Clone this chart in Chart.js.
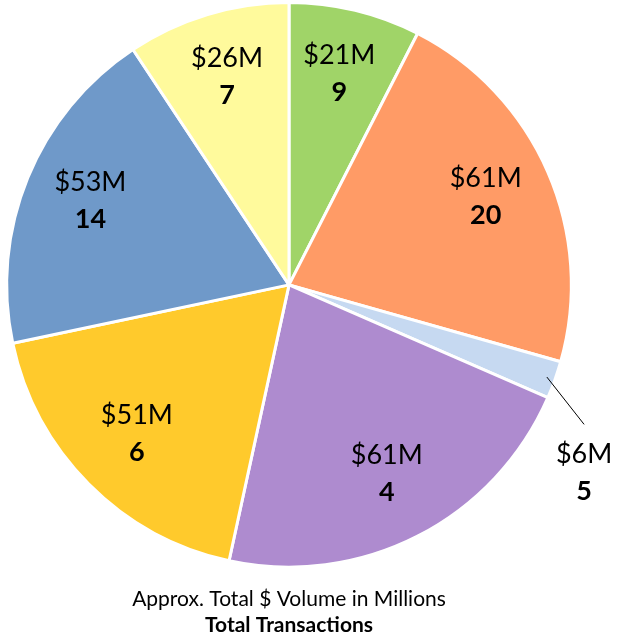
<!DOCTYPE html>
<html>
<head>
<meta charset="utf-8">
<script src="https://cdn.jsdelivr.net/npm/chart.js@4/dist/chart.umd.min.js"></script>
<style>
	html, body { margin: 0; padding: 0; background: #fff; }
	#wrap { width: 618px; height: 638px; }
</style>
</head>
<body>
<div id="wrap"><canvas id="pie"></canvas></div>
<script>
// slice values, clockwise from 12 o'clock
const volumes = [21, 61, 6, 61, 51, 53, 26]; // approx $ volume, millions
const transactions = [9, 20, 5, 4, 6, 14, 7];
const sliceColors = ['#A0D468', '#FF9B66', '#C6D9F1', '#AE8BCF', '#FFCA2C', '#6F99C9', '#FFFA9C'];

const FONT = 'Lato, "Liberation Sans", sans-serif';

// draws "$xxM" + bold count in each slice, small slices get a leader line
const sliceLabels = {
	id: 'sliceLabels',
	afterDatasetsDraw(chart) {
		const ctx = chart.ctx;
		const meta = chart.getDatasetMeta(0);
		const total = volumes.reduce((a, b) => a + b, 0);
		ctx.save();
		ctx.textAlign = 'center';
		ctx.textBaseline = 'middle';
		ctx.fillStyle = '#000';
		meta.data.forEach((arc, i) => {
			const p = arc.getProps(['x', 'y', 'startAngle', 'endAngle', 'outerRadius'], true);
			const a = (p.startAngle + p.endAngle) / 2;
			const r = p.outerRadius;
			let lx, ly;
			if (volumes[i] / total > 0.05) {
				lx = p.x + Math.cos(a) * r * 0.76;
				ly = p.y + Math.sin(a) * r * 0.76 - 3;
			} else {
				lx = p.x + Math.cos(a) * r * 1.11;
				ly = p.y + Math.sin(a) * r * 1.11 + 82;
				//leader line
				ctx.beginPath();
				ctx.strokeStyle = '#000';
				ctx.lineWidth = 1;
				ctx.moveTo(p.x + Math.cos(a) * r * 0.97, p.y + Math.sin(a) * r * 0.97);
				ctx.lineTo(lx, ly - 48);
				ctx.stroke();
			}
			ctx.font = '27px ' + FONT;
			ctx.fillText('$' + volumes[i] + 'M', lx, ly - 18);
			ctx.font = 'bold 27px ' + FONT;
			ctx.fillText(String(transactions[i]), lx, ly + 19);
		});
		ctx.restore();
	},
};

const myPie = new Chart(document.getElementById('pie').getContext('2d'), {
	type: 'pie',
	data: {
		labels: volumes.map((v) => '$' + v + 'M'),
		datasets: [{
			data: volumes,
			backgroundColor: sliceColors,
			borderColor: '#fff',
			borderWidth: 3,
		}],
	},
	options: {
		responsive: true,
		maintainAspectRatio: false,
		animation: false,
		layout: {
			padding: { top: 1, left: 3, right: 43, bottom: 0 },
		},
		plugins: {
			legend: { display: false },
			tooltip: { enabled: false },
			subtitle: {
				display: true,
				position: 'bottom',
				text: 'Approx. Total $ Volume in Millions',
				color: '#000',
				font: { family: FONT, size: 21, lineHeight: 1.15 },
				padding: { top: 18, bottom: 2 },
			},
			title: {
				display: true,
				position: 'bottom',
				text: 'Total Transactions',
				color: '#000',
				font: { family: FONT, size: 21, weight: 'bold', lineHeight: 1.15 },
				padding: { top: 0, bottom: 1 },
			},
		},
	},
	plugins: [sliceLabels],
});
</script>
</body>
</html>
